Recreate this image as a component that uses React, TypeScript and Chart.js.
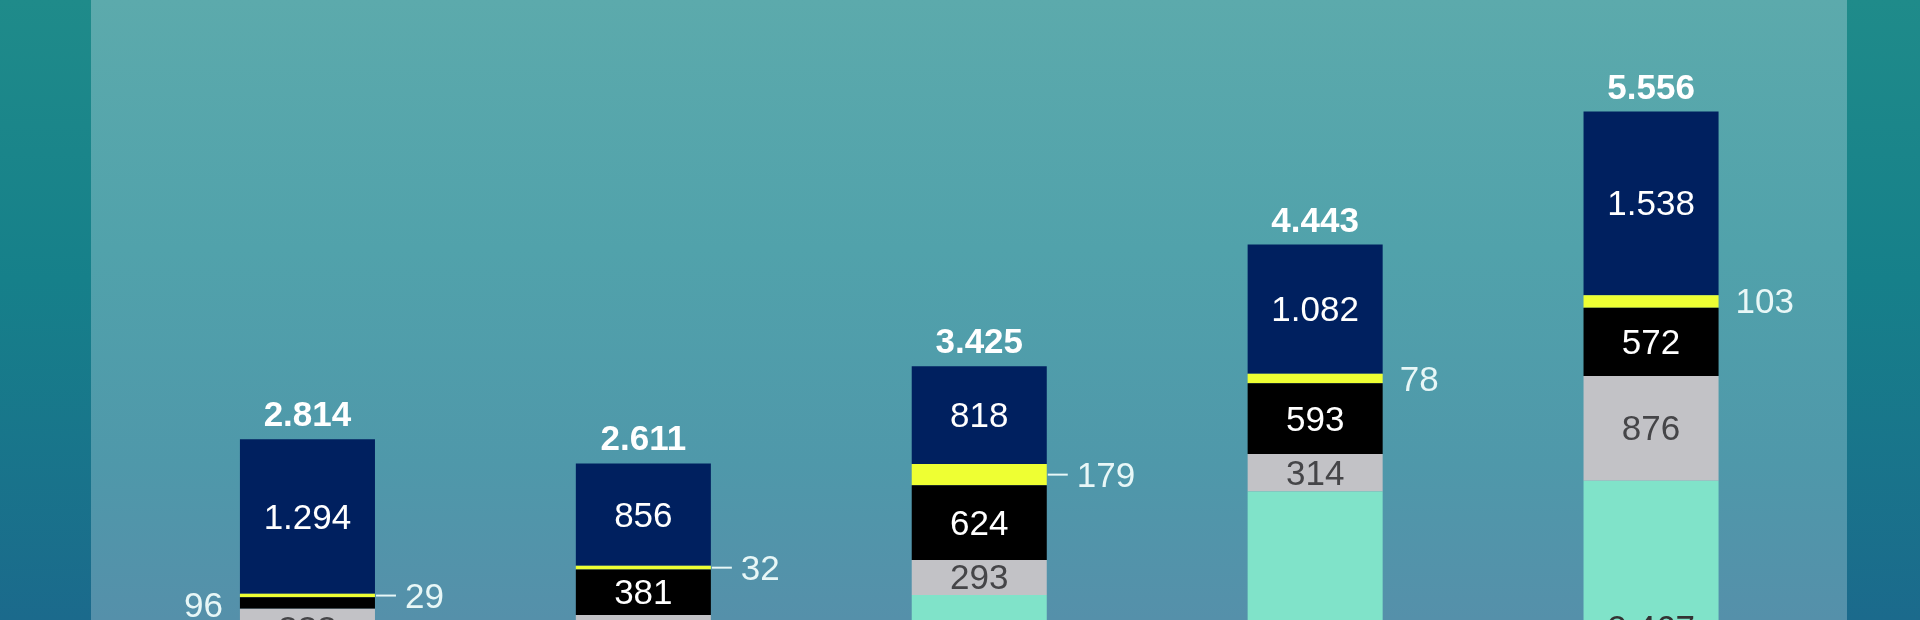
import React, { useEffect, useRef } from "react";
import { Chart, registerables } from "chart.js";

Chart.register(...registerables);

// ---- data ----
const categories = ["1", "2", "3", "4", "5"];
const tealValues = [1062, 1001, 1511, 2376, 2467];
const greyValues = [333, 341, 293, 314, 876];
const blackValues = [96, 381, 624, 593, 572];
const yellowValues = [29, 32, 179, 78, 103];
const navyValues = [1294, 856, 818, 1082, 1538];

// ---- styling ----
const COLORS = {
  teal: "#80E3C9",
  grey: "#C2C2C6",
  black: "#000000",
  yellow: "#EEFF33",
  navy: "#00205F",
};
const yellowLeader = [true, true, true, false, false];
const FONT = "'Liberation Sans', Arial, sans-serif";

function fmt(n: number): string {
  if (n >= 1000) {
    return `${Math.floor(n / 1000)}.${String(n % 1000).padStart(3, "0")}`;
  }
  return String(n);
}

const labelPlugin = {
  id: "segLabels",
  afterDatasetsDraw(chart: any) {
    const ctx = chart.ctx as CanvasRenderingContext2D;
    ctx.save();
    const n = categories.length;
    for (let i = 0; i < n; i++) {
      let topY = Infinity;
      let cx = 0;
      chart.data.datasets.forEach((ds: any, di: number) => {
        const meta = chart.getDatasetMeta(di);
        const el = meta.data[i];
        if (!el) return;
        const p = el.getProps(["x", "y", "base", "width"], true);
        const v = ds.data[i] as number;
        const top = Math.min(p.y, p.base);
        const bot = Math.max(p.y, p.base);
        const mid = (top + bot) / 2;
        const left = p.x - p.width / 2;
        const right = p.x + p.width / 2;
        const h = bot - top;
        cx = p.x;
        topY = Math.min(topY, top);
        const key = ds.key as string;
        ctx.font = `35px ${FONT}`;
        ctx.textBaseline = "alphabetic";
        if (key === "yellow") {
          ctx.fillStyle = "#E8F7F7";
          ctx.textAlign = "left";
          if (yellowLeader[i]) {
            ctx.strokeStyle = "#E8F7F7";
            ctx.lineWidth = 2;
            ctx.beginPath();
            ctx.moveTo(right + 1, mid);
            ctx.lineTo(right + 21, mid);
            ctx.stroke();
            ctx.fillText(fmt(v), right + 30, mid + 12);
          } else {
            ctx.fillText(fmt(v), right + 17, mid + 12);
          }
        } else if (key === "black" && h < 28) {
          ctx.fillStyle = "#E8F7F7";
          ctx.textAlign = "right";
          ctx.fillText(fmt(v), left - 17, mid + 14);
        } else {
          ctx.textAlign = "center";
          ctx.fillStyle =
            key === "grey" ? "#454548" : key === "teal" ? "#333333" : "#FFFFFF";
          ctx.fillText(fmt(v), p.x, mid + 12);
        }
      });
      const total =
        tealValues[i] + greyValues[i] + blackValues[i] + yellowValues[i] + navyValues[i];
      ctx.font = `bold 35px ${FONT}`;
      ctx.textAlign = "center";
      ctx.textBaseline = "alphabetic";
      ctx.fillStyle = "#FFFFFF";
      ctx.fillText(fmt(total), cx, topY - 13);
    }
    ctx.restore();
  },
};

export default function App() {
  const canvasRef = useRef<HTMLCanvasElement | null>(null);

  useEffect(() => {
    if (!canvasRef.current) return;
    const mk = (key: string, label: string, data: number[], color: string) => ({
      key,
      label,
      data,
      backgroundColor: color,
      borderWidth: 0,
      barPercentage: 0.402,
      categoryPercentage: 1,
    });
    const chart = new Chart(canvasRef.current, {
      type: "bar",
      data: {
        labels: categories,
        datasets: [
          mk("teal", "teal", tealValues, COLORS.teal),
          mk("grey", "grey", greyValues, COLORS.grey),
          mk("black", "black", blackValues, COLORS.black),
          mk("yellow", "yellow", yellowValues, COLORS.yellow),
          mk("navy", "navy", navyValues, COLORS.navy),
        ] as any,
      },
      options: {
        animation: false,
        responsive: false,
        devicePixelRatio: 1,
        layout: { padding: { left: 139.5, right: 101, top: 58.5, bottom: 0 } },
        plugins: {
          legend: { display: false },
          tooltip: { enabled: false },
        },
        scales: {
          x: { stacked: true, display: false },
          y: { stacked: true, display: false, min: 1301, max: 6000 },
        },
      },
      plugins: [labelPlugin],
    });
    return () => chart.destroy();
  }, []);

  return (
    <div
      style={{
        position: "fixed",
        left: 0,
        top: 0,
        width: 1920,
        height: 620,
        overflow: "hidden",
        background: "linear-gradient(to bottom, #1F8B8A 0%, #16808A 45%, #1B6A8C 100%)",
      }}
    >
      <div
        style={{
          position: "absolute",
          left: 91,
          top: 0,
          width: 1756,
          height: 620,
          background:
            "linear-gradient(to bottom, #5CAAAC 0%, #51A2AB 40%, #4F98AA 75%, #5590AA 100%)",
        }}
      />
      <canvas
        ref={canvasRef}
        width={1920}
        height={620}
        style={{ position: "absolute", left: 0, top: 0, width: 1920, height: 620 }}
      />
    </div>
  );
}
